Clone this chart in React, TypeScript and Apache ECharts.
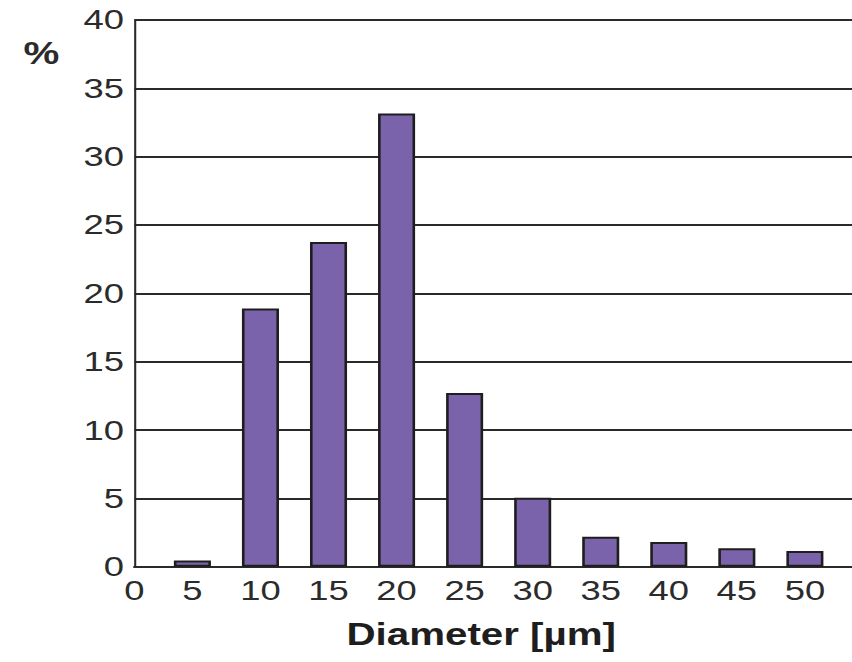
import React, { useEffect, useRef } from "react";
import * as echarts from "echarts";

// Data
const diameters = [5, 10, 15, 20, 25, 30, 35, 40, 45, 50];
const percents = [0.45, 18.9, 23.75, 33.15, 12.7, 5.05, 2.2, 1.8, 1.35, 1.15];
const xTickValues = [0, 5, 10, 15, 20, 25, 30, 35, 40, 45, 50];
const xTickLabels = ["0", "5", "10", "15", "20", "25", "30", "35", "40", "45", "50"];
const yMin = 0;
const yMax = 40;
const yStep = 5;
const xTitle = "Diameter [µm]";
const yTitle = "%";

// The reference is stretched horizontally; lay out narrower and scale in X.
const SX = 1.3;
const W = 656;
const H = 662;
const X_MIN = 0.73;
const X_MAX = 53.52;

export default function App() {
  const ref = useRef<HTMLDivElement>(null);
  useEffect(() => {
    if (!ref.current) return;
    const chart = echarts.init(ref.current, null, { renderer: "svg" });
    const font = "Liberation Sans, Arial, Helvetica, sans-serif";
    const labelPos = xTickValues.map((v) => (v === 0 ? X_MIN : v));
    chart.setOption({
      animation: false,
      backgroundColor: "#ffffff",
      grid: { left: 103.3, right: 0, top: 20, bottom: 95.3, containLabel: false },
      xAxis: {
        type: "value",
        min: X_MIN,
        max: X_MAX,
        name: xTitle,
        nameLocation: "middle",
        nameGap: 52,
        nameTextStyle: {
          fontFamily: font,
          fontSize: 31,
          fontWeight: "bold",
          color: "#1e1e1e",
          padding: [0, 19, 0, 0],
        },
        axisLine: { show: true, onZero: false, lineStyle: { color: "#2a2a2a", width: 2 } },
        axisTick: { show: false },
        splitLine: { show: false },
        axisLabel: {
          customValues: labelPos,
          margin: 10,
          fontFamily: font,
          fontSize: 28,
          color: "#2b2b2b",
          formatter: (v: number) => {
            const i = labelPos.findIndex((p) => Math.abs(p - v) < 1e-6);
            return i >= 0 ? xTickLabels[i] : "";
          },
        },
      },
      yAxis: {
        type: "value",
        min: yMin,
        max: yMax,
        interval: yStep,
        axisLine: { show: true, lineStyle: { color: "#2a2a2a", width: 1.6 } },
        axisTick: { show: false },
        splitLine: { show: true, lineStyle: { color: "#2a2a2a", width: 2 } },
        axisLabel: {
          margin: 8,
          fontFamily: font,
          fontSize: 28,
          color: "#2b2b2b",
        },
      },
      graphic: [
        {
          type: "text",
          left: 18,
          top: 38,
          style: {
            text: yTitle,
            font: `bold 31px ${font}`,
            fill: "#2b2b2b",
          },
        },
      ],
      series: [
        {
          type: "bar",
          data: diameters.map((d, i) => [d, percents[i]]),
          barWidth: 28.5,
          itemStyle: { color: "#7b63ab", borderColor: "#1e1e1e", borderWidth: 2 },
        },
      ],
    });
    return () => chart.dispose();
  }, []);
  return (
    <div
      ref={ref}
      style={{
        position: "absolute",
        left: 0,
        top: 0,
        width: W,
        height: H,
        transform: `scaleX(${SX})`,
        transformOrigin: "0 0",
      }}
    />
  );
}
